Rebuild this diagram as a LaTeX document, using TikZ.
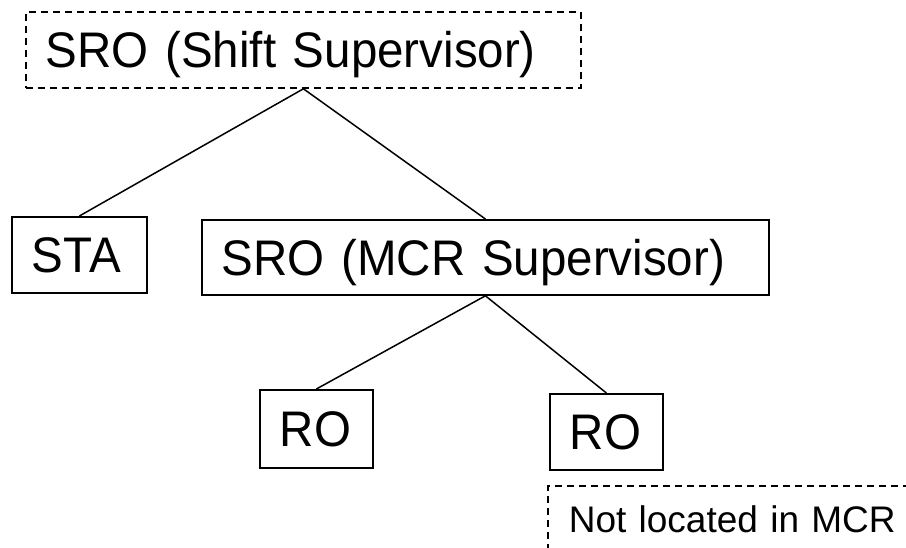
\documentclass[tikz,border=0pt]{standalone}
\usepackage{fontspec}
\setmainfont{Liberation Sans}
\newfontfamily\orgfamily[FakeStretch=0.95]{Liberation Sans}
\newcommand\orgfont{\orgfamily\fontsize{50}{60}\selectfont}
\newcommand\notefont{\fontsize{37}{44}\selectfont}
\begin{document}
\begin{tikzpicture}[x=1pt, y=-1pt,
  orgbox/.style={draw, line width=1.8pt, font=\orgfont, anchor=north west,
    inner xsep=20pt, inner ysep=0pt, text height=35.8pt, text depth=0pt, align=left},
  dashbox/.style={dash pattern=on 7pt off 5pt},
  notebox/.style={draw, line width=1.6pt, dash pattern=on 7pt off 5pt, font=\notefont,
    anchor=north west, inner xsep=21pt, inner ysep=0pt, text height=26.5pt,
    text depth=0pt, align=left},
  link/.style={line width=1.5pt}]
  \clip (0,0) rectangle (906,548);
  \fill[white] (0,0) rectangle (906,548);

  % organisation boxes
  \node[orgbox, dashbox, text width=515pt, minimum height=76pt] (shift) at (25,11) {SRO (Shift Supervisor)};
  \node[orgbox, text width=95pt, minimum height=76pt] (sta) at (11,216) {STA};
  \node[orgbox, text width=527pt, minimum height=75pt] (mcr) at (201,219) {SRO (MCR Supervisor)};
  \node[orgbox, text width=73pt, minimum height=78pt] (roa) at (259,389) {RO};
  \node[orgbox, text width=73pt, minimum height=76pt] (rob) at (549,393) {RO};

  % note, running off the lower right corner
  \node[notebox, text width=340pt, minimum height=66pt] (note) at (547,485) {Not located in MCR};

  % reporting lines
  \draw[link] (shift.south) -- (sta.north);
  \draw[link] (shift.south) -- (mcr.north);
  \draw[link] (mcr.south) -- (roa.north);
  \draw[link] (mcr.south) -- (rob.north);
\end{tikzpicture}
\end{document}
